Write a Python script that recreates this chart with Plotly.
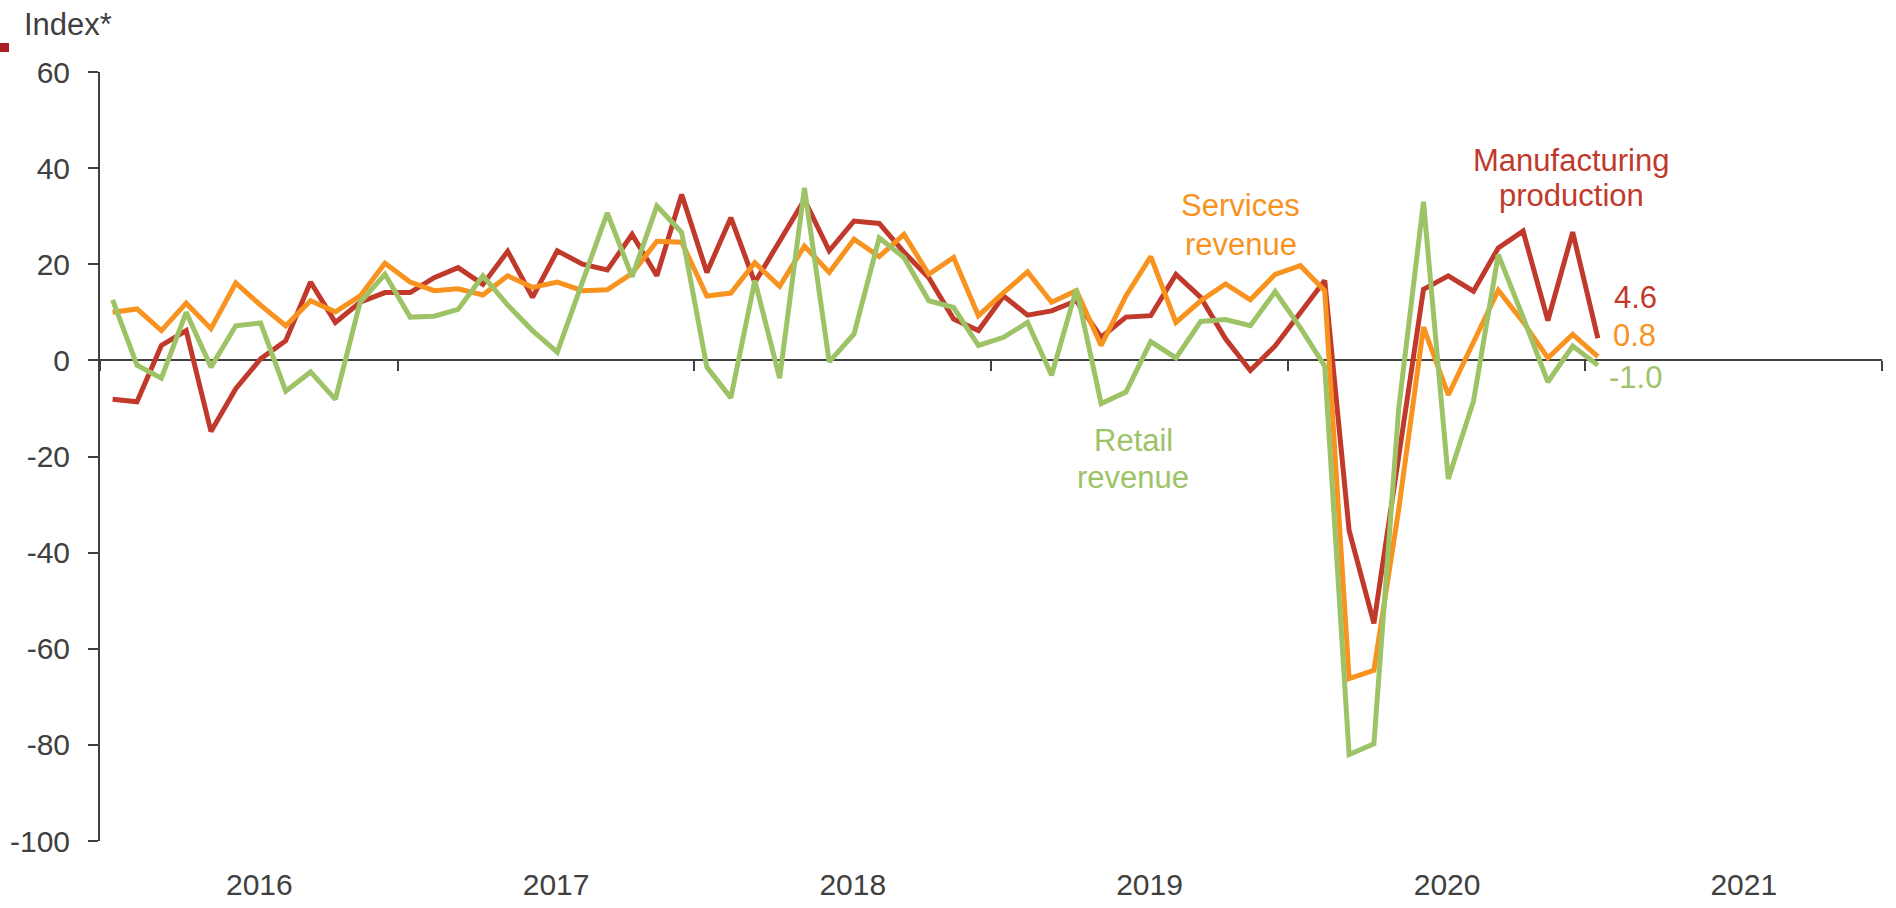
import pandas as pd
import plotly.graph_objects as go

# Monthly observations, Jan 2016 - Jan 2021
months = pd.date_range("2016-01-01", "2021-01-01", freq="MS").strftime("%Y-%m-%d").tolist()

manufacturing = [
    -8.1, -8.6, 3.1, 6.2, -14.8, -5.9, 0.3, 4.1, 16.3, 7.9, 12.1, 14.1,
    14.1, 17.2, 19.3, 15.8, 22.7, 13.1, 22.8, 20.0, 18.8, 26.2, 17.6, 34.5,
    18.3, 29.7, 16.2, 24.8, 33.4, 22.8, 29.0, 28.5, 22.5, 17.2, 8.6, 6.2,
    13.4, 9.4, 10.3, 12.4, 4.8, 9.0, 9.3, 17.9, 13.1, 4.5, -2.1, 3.0,
    9.8, 16.6, -35.4, -54.7, -20.0, 14.8, 17.6, 14.4, 23.4, 26.9, 8.3, 26.7,
    4.6,
]
services = [
    10.0, 10.7, 6.2, 11.9, 6.6, 16.1, 11.5, 7.2, 12.4, 10.1, 13.4, 20.2,
    16.3, 14.5, 14.9, 13.6, 17.6, 15.2, 16.3, 14.5, 14.7, 18.1, 24.8, 24.6,
    13.4, 14.0, 20.3, 15.4, 23.8, 18.3, 25.2, 21.6, 26.2, 17.9, 21.4, 9.3,
    14.1, 18.4, 12.1, 14.5, 3.1, 13.4, 21.6, 7.9, 12.4, 15.9, 12.6, 17.9,
    19.7, 14.5, -66.2, -64.5, -31.0, 6.9, -7.2, 3.6, 14.6, 8.0, 0.5, 5.4,
    0.8,
]
retail = [
    12.6, -1.0, -3.7, 10.0, -1.4, 7.2, 7.8, -6.4, -2.4, -8.1, 12.1, 17.9,
    9.0, 9.2, 10.6, 17.6, 11.5, 6.2, 1.7, 16.0, 30.7, 17.4, 32.1, 26.6,
    -1.4, -7.8, 16.6, -3.7, 35.9, -0.3, 5.5, 25.5, 21.4, 12.4, 11.0, 3.1,
    4.8, 7.9, -3.1, 14.8, -9.0, -6.6, 3.9, 0.5, 8.1, 8.5, 7.2, 14.3,
    6.8, -1.2, -82.0, -79.8, -10.0, 33.0, -24.7, -8.5, 22.0, 9.0, -4.5, 3.0,
    -1.0,
]

year_labels = ["2016", "2017", "2018", "2019", "2020", "2021"]
year_label_pos = [y + "-07-15" for y in year_labels]
year_bounds = [str(y) + "-01-01" for y in range(2016, 2023)]
y_ticks = [-100, -80, -60, -40, -20, 0, 20, 40, 60]
y_tick_text = ["-100", "-80", "-60", "-40", "-20", "0", "20", "40", "60"]

RED = "#C0392B"
ORANGE = "#F7931E"
GREEN = "#9DC366"
TXT = "#404040"
FONT = "Liberation Sans, Arial, sans-serif"

fig = go.Figure()
common = dict(mode="lines", xperiod="M1", xperiodalignment="middle", hoverinfo="skip")
fig.add_trace(go.Scatter(x=months, y=manufacturing, line=dict(color=RED, width=5),
                         name="Manufacturing production", xaxis="x", **common))
fig.add_trace(go.Scatter(x=months, y=services, line=dict(color=ORANGE, width=5),
                         name="Services revenue", xaxis="x", **common))
fig.add_trace(go.Scatter(x=months, y=retail, line=dict(color=GREEN, width=5),
                         name="Retail revenue", xaxis="x2", **common))

fig.update_layout(
    width=1896, height=908,
    margin=dict(l=100, r=14, t=72, b=67, autoexpand=False),
    paper_bgcolor="white", plot_bgcolor="white",
    showlegend=False,
    font=dict(family=FONT, color=TXT, size=30),
    xaxis=dict(
        range=["2016-01-01", "2022-01-01"], automargin=False,
        tickmode="array", tickvals=year_label_pos, ticktext=year_labels,
        showline=False, showgrid=False, zeroline=False, ticks="",
        ticklabelstandoff=23,
        tickfont=dict(size=30, color=TXT, family=FONT),
    ),
    xaxis2=dict(
        overlaying="x", matches="x", anchor="free", position=0.625, automargin=False,
        range=["2016-01-01", "2022-01-01"],
        tickmode="array", tickvals=year_bounds,
        showticklabels=False, showline=False, showgrid=False, zeroline=False,
        ticks="outside", ticklen=10, tickwidth=2, tickcolor=TXT,
    ),
    yaxis=dict(
        range=[-100, 60], automargin=False,
        tickmode="array", tickvals=y_ticks, ticktext=y_tick_text,
        showline=True, linecolor=TXT, linewidth=2,
        ticks="outside", ticklen=10, tickwidth=2, tickcolor=TXT,
        showgrid=False, zeroline=True, zerolinecolor=TXT, zerolinewidth=2,
        ticklabelstandoff=12,
        tickfont=dict(size=30, color=TXT, family=FONT),
    ),
)

fig.add_annotation(text="Index*", xref="paper", yref="paper", x=0, y=1,
                   xanchor="left", yanchor="bottom", yshift=28, xshift=-78,
                   showarrow=False, font=dict(size=31, color=TXT, family=FONT))
fig.add_shape(type="rect", xref="paper", yref="paper", xsizemode="pixel", ysizemode="pixel",
              xanchor=0, yanchor=1, x0=-100, x1=-91, y0=20, y1=29,
              fillcolor="#A91F23", line=dict(width=0))

ann = [
    ("Manufacturing", "2020-12-15", 41.5, RED),
    ("production", "2020-12-15", 34.4, RED),
    ("Services", "2019-11-04", 32.2, ORANGE),
    ("revenue", "2019-11-04", 24.1, ORANGE),
    ("Retail", "2019-06-25", -16.7, GREEN),
    ("revenue", "2019-06-25", -24.4, GREEN),
    ("4.6", "2021-03-04", 13.0, RED),
    ("0.8", "2021-03-03", 5.2, ORANGE),
    ("-1.0", "2021-03-04", -3.6, GREEN),
]
for text, x, y, c in ann:
    fig.add_annotation(text=text, x=x, y=y, xref="x", yref="y", showarrow=False,
                       xanchor="center", yanchor="middle",
                       font=dict(size=31, color=c, family=FONT))

# remove the browser's default body margin so the figure fills the window exactly
fig.write_html("out.html", config={"displayModeBar": False},
               post_script="document.body.style.margin='0px';")
